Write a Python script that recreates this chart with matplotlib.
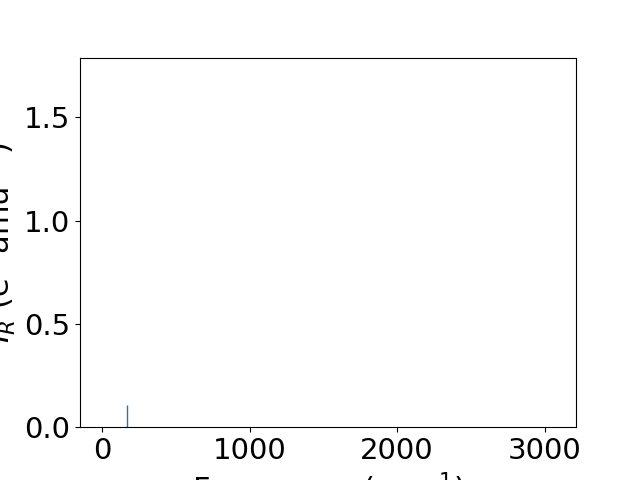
import matplotlib
matplotlib.use("Agg")
import matplotlib.pyplot as plt

frequencies = [170]
intensities = [0.107]

plt.rcParams['font.size'] = 21
fig, ax = plt.subplots(figsize=(6.4, 4.8), dpi=100)
ax.vlines(frequencies, 0, intensities, colors='C0', linewidth=1)
ax.set_xlim(-150, 3213)
ax.set_ylim(0, 1.79)
ax.set_xticks([0, 1000, 2000, 3000])
ax.set_yticks([0.0, 0.5, 1.0, 1.5])
ax.set_xlabel('Frequency (cm$^{-1}$)', fontsize=22)
ax.set_ylabel('$I_R$ (e$^2$ amu$^{-1}$)', fontsize=22)
fig.savefig('out.png', dpi=100)
